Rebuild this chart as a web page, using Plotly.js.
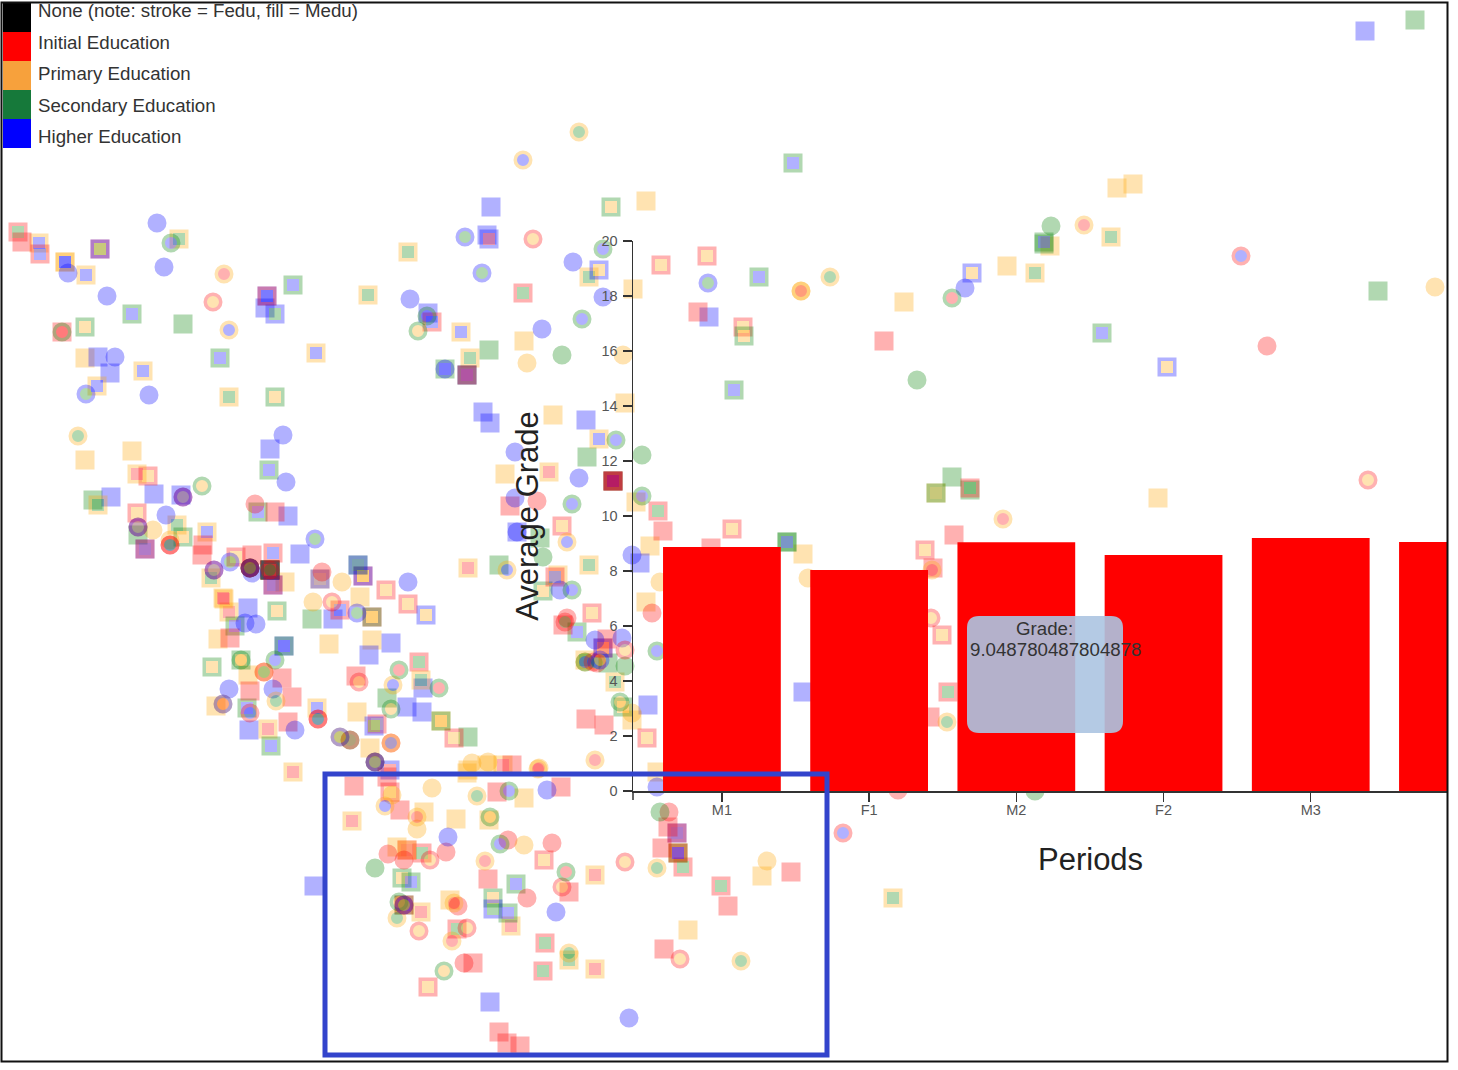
<!DOCTYPE html>
<html><head><meta charset="utf-8"><script src="https://cdn.plot.ly/plotly-3.0.1.min.js"></script>
<style>html,body{margin:0;padding:0;background:#fff}</style></head><body><div id="chart" style="width:1458px;height:1070px"></div>
<script>
const periods=['M1','F1','M2','F2','M3','F3'];
const grades=[8.87,8.04,9.048780487804878,8.58,9.2,9.05];
const legendLabels=['None (note: stroke = Fedu, fill = Medu)','Initial Education','Primary Education','Secondary Education','Higher Education'];
const legendColors=['black','red','#f7a13c','#16793a','blue'];
const tooltipLines=['Grade:','9.048780487804878'];
// student positions, grouped by shape + stroke + fill
const sqRR=[[22,242],[203,545],[202,555],[252,555],[275,512],[230,638],[282,678],[356,676],[250,691],[292,697],[288,722],[387,777],[354,786],[400,810],[497,792],[512,765],[561,787],[488,879],[569,892],[473,963],[499,1032],[507,1043],[520,1046],[668,827],[662,848],[728,906],[664,949],[791,872],[698,312],[884,341],[954,535],[933,568],[930,717],[711,548],[586,719],[604,725],[663,531],[510,506],[563,625],[607,639],[62,332],[613,481]];
const sqOO=[[85,358],[132,451],[85,460],[285,582],[218,639],[248,675],[329,644],[372,640],[357,712],[216,706],[370,748],[467,773],[487,765],[424,812],[456,819],[489,820],[397,847],[450,900],[688,930],[762,876],[646,201],[633,289],[524,341],[625,403],[553,415],[505,474],[636,502],[650,546],[646,602],[632,720],[1133,184],[1117,188],[1050,246],[1007,266],[904,302],[1158,498],[803,554],[657,772],[558,575],[524,798],[468,770],[441,721],[360,597],[270,570]];
const sqGG=[[93,500],[183,324],[312,619],[387,698],[468,737],[489,350],[587,457],[608,663],[1415,20],[1378,291],[952,477],[499,565],[540,538],[138,535],[1044,244],[970,490],[787,542],[270,570]];
const sqBB=[[111,497],[154,494],[110,373],[98,357],[270,449],[300,554],[248,608],[333,619],[391,643],[369,655],[407,707],[423,688],[422,712],[249,730],[314,886],[490,1002],[491,207],[487,235],[428,313],[709,317],[490,423],[483,412],[586,420],[640,563],[648,705],[803,692],[1365,31],[288,516],[181,495],[265,308],[267,296],[517,532],[284,646],[270,570]];
const sqRO=[[148,476],[137,513],[236,557],[386,590],[408,604],[377,724],[454,738],[390,792],[407,850],[428,987],[544,860],[661,265],[707,256],[743,327],[732,529],[925,550],[942,635],[647,738],[363,576],[592,613],[603,648],[562,526],[372,617],[270,570]];
const sqRG=[[18,232],[100,249],[419,662],[422,853],[545,943],[543,971],[457,929],[683,867],[721,886],[523,293],[658,511],[970,488],[948,692],[270,570]];
const sqOR=[[137,474],[229,612],[224,599],[268,729],[293,772],[352,821],[421,912],[511,926],[595,875],[595,969],[468,568],[549,472],[503,765],[223,598],[407,850],[613,481],[270,570]];
const sqOG=[[179,239],[408,252],[368,295],[229,397],[211,578],[98,505],[177,525],[421,680],[1035,273],[1111,237],[893,898],[470,358],[589,277],[589,565],[615,682],[569,960],[936,493],[585,660]];
const sqOB=[[39,243],[65,262],[65,262],[86,275],[143,371],[461,332],[316,353],[97,386],[207,532],[317,708],[599,439],[678,853],[320,579],[270,570],[613,481]];
const sqGO=[[85,327],[183,537],[212,667],[275,397],[402,878],[493,898],[744,336],[543,591],[623,707],[277,611],[372,617],[441,721],[611,207],[241,660],[936,493]];
const sqGB=[[132,314],[293,285],[220,358],[269,470],[235,626],[258,512],[516,884],[793,163],[759,277],[734,390],[1102,333],[358,565],[284,646],[247,708],[271,746],[411,882],[445,369],[577,632],[508,913],[787,542],[1044,242],[270,570]];
const sqGR=[[270,570],[404,905],[613,481],[467,375],[678,853]];
const sqBR=[[489,239],[390,770],[603,648],[613,481],[467,375],[677,833],[273,585],[145,549]];
const sqBO=[[599,270],[1167,367],[972,273],[426,615],[363,576],[320,579],[270,570],[100,249]];
const sqBG=[[275,314],[493,909],[374,726],[358,565]];
const sqRB=[[273,553],[273,585],[145,549],[267,296],[40,254],[467,375],[432,322],[613,481],[555,577],[340,610],[677,833],[678,853],[404,905]];
const cRR=[[255,504],[322,572],[527,898],[388,854],[446,852],[552,843],[508,840],[404,860],[458,906],[464,963],[669,812],[1267,346],[537,501],[652,613],[898,790],[567,618],[250,568]];
const cOO=[[342,582],[313,602],[432,788],[417,829],[524,845],[767,861],[527,363],[623,355],[660,582],[808,578],[1435,287],[472,763],[488,762],[392,795],[632,713],[264,672],[153,530],[170,540],[801,291]];
const cGG=[[375,868],[562,355],[917,380],[1051,226],[660,812],[642,455],[625,666],[1035,791],[543,557],[250,568]];
const cBB=[[157,223],[164,267],[68,273],[107,296],[115,357],[149,395],[283,435],[286,482],[166,515],[408,582],[229,689],[273,689],[295,730],[448,837],[547,790],[556,912],[629,1018],[410,299],[573,262],[542,329],[603,297],[965,288],[579,478],[515,452],[515,498],[595,640],[622,638],[632,555],[245,623],[256,624],[252,573],[657,787],[560,590],[445,369],[517,532]];
const cOR=[[224,274],[223,704],[417,817],[454,903],[485,861],[452,941],[1084,225],[801,291],[1003,519],[539,768],[595,760],[538,769],[932,570]];
const cRO=[[213,302],[533,239],[332,602],[359,682],[419,931],[467,928],[562,887],[625,862],[680,959],[1368,480],[931,618],[625,650],[430,860],[391,743]];
const cOG=[[78,436],[276,701],[477,796],[397,918],[569,953],[657,868],[741,961],[579,132],[830,277],[947,722],[585,662],[340,737]];
const cOB=[[229,330],[523,160],[385,806],[393,685],[507,570],[567,542],[391,743]];
const cGR=[[399,670],[439,688],[566,872],[952,298],[350,740],[62,332],[250,568]];
const cGO=[[418,331],[490,817],[444,971],[391,709],[620,702],[399,902],[202,486],[241,660]];
const cGB=[[171,243],[500,844],[509,791],[582,319],[603,249],[427,316],[572,504],[642,496],[616,440],[572,590],[657,651],[275,660],[585,662],[375,762]];
const cBG=[[86,394],[315,539],[465,237],[482,273],[708,283],[357,613],[230,562]];
const cRB=[[843,833],[1241,256],[250,713],[183,497],[170,545],[318,719],[138,527],[214,570],[593,662],[250,568]];
const cRG=[[250,568],[270,570],[170,545],[318,719],[375,762],[404,905],[264,672],[597,663],[565,622],[350,740]];
const cBO=[[250,568],[183,497],[138,527],[600,660],[375,762],[404,905],[340,737],[223,704],[214,570]];
const groups=[
 ['square','orange','orange',sqOO],['square','green','green',sqGG],['square','blue','blue',sqBB],
 ['square','red','orange',sqRO],['square','red','green',sqRG],['square','orange','red',sqOR],
 ['square','orange','green',sqOG],['square','orange','blue',sqOB],['square','green','orange',sqGO],['square','green','blue',sqGB],['square','green','red',sqGR],
 ['square','blue','red',sqBR],['square','blue','orange',sqBO],['square','blue','green',sqBG],['square','red','blue',sqRB],['square','red','red',sqRR],
 ['circle','red','red',cRR],['circle','orange','orange',cOO],['circle','green','green',cGG],['circle','blue','blue',cBB],
 ['circle','orange','red',cOR],['circle','red','orange',cRO],['circle','orange','green',cOG],['circle','orange','blue',cOB],
 ['circle','green','red',cGR],['circle','green','orange',cGO],['circle','green','blue',cGB],['circle','blue','green',cBG],['circle','red','blue',cRB],['circle','red','green',cRG],['circle','blue','orange',cBO]
];
const traces=groups.map(g=>({type:'scatter',mode:'markers',xaxis:'x',yaxis:'y',hoverinfo:'skip',showlegend:false,cliponaxis:true,
 x:g[3].map(p=>p[0]),y:g[3].map(p=>p[1]),
 marker:{symbol:g[0],size:15.5,color:g[2],opacity:0.3,line:{color:g[1],width:3.5}}}));
traces.push({type:'bar',xaxis:'x2',yaxis:'y2',x:periods,y:grades,width:0.8,marker:{color:'red',line:{width:0}},showlegend:false,hoverinfo:'skip'});
const W=1458,H=1070;
const shapes=[];
legendColors.forEach((c,i)=>{shapes.push({type:'rect',xref:'x',yref:'y',x0:3,x1:31,y0:i==0?3:3+i*29,y1:3+(i+1)*29,fillcolor:c,line:{width:0}});});
shapes.push({type:'line',xref:'x',yref:'y',x0:633,x1:633,y0:791,y1:800,line:{color:'#333',width:1.5}});
shapes.push({type:'path',xref:'x',yref:'y',path:'M 979 616 L 1111 616 Q 1123 616 1123 628 L 1123 721 Q 1123 733 1111 733 L 979 733 Q 967 733 967 721 L 967 628 Q 967 616 979 616 Z',fillcolor:'rgba(172,196,225,0.9)',line:{width:0}});
shapes.push({type:'rect',xref:'x',yref:'y',x0:325,x1:827,y0:774,y1:1055,fillcolor:'rgba(0,0,0,0)',line:{color:'#3344cc',width:5}});
shapes.push({type:'rect',xref:'x',yref:'y',x0:1.5,x1:1447.5,y0:2.5,y1:1061.5,fillcolor:'rgba(0,0,0,0)',line:{color:'#111',width:2}});
const ann=[];
legendLabels.forEach((t,i)=>ann.push({xref:'x',yref:'y',x:36,y:10.5+i*31.5,text:t,showarrow:false,xanchor:'left',yanchor:'middle',font:{family:'Liberation Sans',size:18.7,color:'#333'}}));
ann.push({xref:'x',yref:'y',x:1044,y:628,text:tooltipLines[0],showarrow:false,xanchor:'center',yanchor:'middle',font:{family:'Liberation Sans',size:18.7,color:'#333'}});
ann.push({xref:'x',yref:'y',x:1055,y:649,text:tooltipLines[1],showarrow:false,xanchor:'center',yanchor:'middle',font:{family:'Liberation Sans',size:18.7,color:'#333'}});
ann.push({xref:'x',yref:'y',x:1090,y:859,text:'Periods',showarrow:false,xanchor:'center',yanchor:'middle',font:{family:'Liberation Sans',size:31,color:'#222'}});
const layout={width:W,height:H,margin:{l:0,r:0,t:0,b:0,pad:0},paper_bgcolor:'#fff',plot_bgcolor:'rgba(0,0,0,0)',showlegend:false,barmode:'overlay',
 xaxis:{domain:[0,1],range:[0,W],visible:false,fixedrange:true},
 yaxis:{domain:[0,1],range:[H,0],visible:false,fixedrange:true},
 xaxis2:{anchor:'y2',domain:[633/W,1447.5/W],type:'category',categoryorder:'array',categoryarray:periods,range:[-0.604,4.929],showline:true,linecolor:'#333',linewidth:1.5,ticks:'outside',ticklen:9,tickwidth:1.5,tickcolor:'#333',ticklabelstandoff:-4,showgrid:false,zeroline:false,tickfont:{family:'Liberation Sans',size:14.5,color:'#555'}},
 yaxis2:{anchor:'x2',domain:[1-791/H,1-241/H],range:[0,20],tick0:0,dtick:2,showline:true,linecolor:'#333',linewidth:1.5,ticks:'outside',ticklen:9,tickwidth:1.5,tickcolor:'#333',ticklabelstandoff:2,showgrid:false,zeroline:false,tickfont:{family:'Liberation Sans',size:14.5,color:'#555'},
  title:{text:'Average Grade',standoff:53,font:{family:'Liberation Sans',size:31,color:'#222'}}},
 shapes:shapes,annotations:ann};
Plotly.newPlot('chart',traces,layout,{displayModeBar:false,staticPlot:true});
</script></body></html>
